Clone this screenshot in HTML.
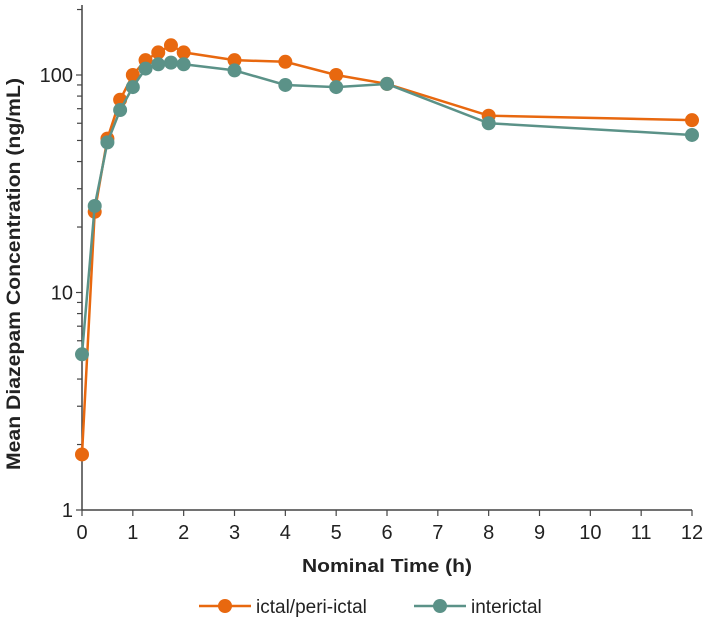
<!DOCTYPE html>
<html><head><meta charset="utf-8"><style>
body{margin:0;background:#fff;}
svg{display:block;font-family:"Liberation Sans",sans-serif;}
</style></head><body>
<svg id="chart" width="709" height="622"></svg>
<script>
const times=[0,0.25,0.5,0.75,1,1.25,1.5,1.75,2,3,4,5,6,8,12];
const ictal=[1.8,23.5,51,77,100,117,127,137,127,117,115,100,91,65,62];
const interictal=[5.2,25,49,69,88,107,112,114,112,105,90,88,91,60,53];
const xTicks=[0,1,2,3,4,5,6,7,8,9,10,11,12];
const yTicks=[1,10,100];
const NS="http://www.w3.org/2000/svg";
const svg=document.getElementById('chart');
const X0=82,X1=692,YB=510,DEC=217.5;
const xs=t=>X0+(X1-X0)*t/12;
const ys=v=>YB-DEC*Math.log10(v);
function mk(tag,attrs,parent){const e=document.createElementNS(NS,tag);for(const k in attrs)e.setAttribute(k,attrs[k]);(parent||svg).appendChild(e);return e;}
const axes=mk('g',{});


const ya=mk('line',{x1:X0,y1:5,x2:X0,y2:YB,stroke:'#444','stroke-width':1.5},axes);


const xa=mk('line',{x1:X0,y1:YB,x2:X1,y2:YB,stroke:'#444','stroke-width':1.5},axes);


for(let d=0;d<3;d++){for(let m=1;m<=9;m++){const v=Math.pow(10,d)*m;if(v>200)break;const y=ys(v);
const tk=mk('line',{x1:X0-(m==1?6:5),y1:y,x2:X0,y2:y,stroke:'#444','stroke-width':1.2},axes);

}}
yTicks.forEach(v=>{const t=mk('text',{x:X0-9,y:ys(v)+7,'text-anchor':'end','font-size':20,fill:'#222'},axes);t.textContent=v;

});
xTicks.forEach(v=>{const x=xs(v);const tk=mk('line',{x1:x,y1:YB,x2:x,y2:YB+6,stroke:'#444','stroke-width':1.2},axes);


const t=mk('text',{x:x,y:YB+29,'text-anchor':'middle','font-size':20,fill:'#222'},axes);t.textContent=v;

});
const xt=mk('text',{x:387,y:572,'text-anchor':'middle','font-size':18,'font-weight':'bold',fill:'#222',textLength:170,lengthAdjust:'spacingAndGlyphs'});xt.textContent='Nominal Time (h)';


const yt=mk('text',{x:0,y:0,'text-anchor':'middle','font-size':19,'font-weight':'bold',fill:'#222',textLength:392,lengthAdjust:'spacingAndGlyphs',transform:'translate(20,274) rotate(-90)'});yt.textContent='Mean Diazepam Concentration (ng/mL)';


function series(vals,color,name){const g=mk('g',{});


const pts=times.map((t,i)=>xs(t)+','+ys(vals[i])).join(' ');
const pl=mk('polyline',{points:pts,fill:'none',stroke:color,'stroke-width':2.5},g);


times.forEach((t,i)=>{const c=mk('circle',{cx:xs(t),cy:ys(vals[i]),r:7,fill:color},g);

});}
series(ictal,'#E8680F','ictal');
series(interictal,'#5B9288','interictal');
function legend(x,color,label,name){const g=mk('g',{});


mk('line',{x1:x,y1:606,x2:x+52,y2:606,stroke:color,'stroke-width':2.5},g);
mk('circle',{cx:x+26,cy:606,r:7,fill:color},g);
const t=mk('text',{x:x+57,y:613,'font-size':19,fill:'#222'},g);t.textContent=label;}
legend(199,'#E8680F','ictal/peri-ictal','ictal');
legend(414,'#5B9288','interictal','interictal');
</script>
</body></html>
